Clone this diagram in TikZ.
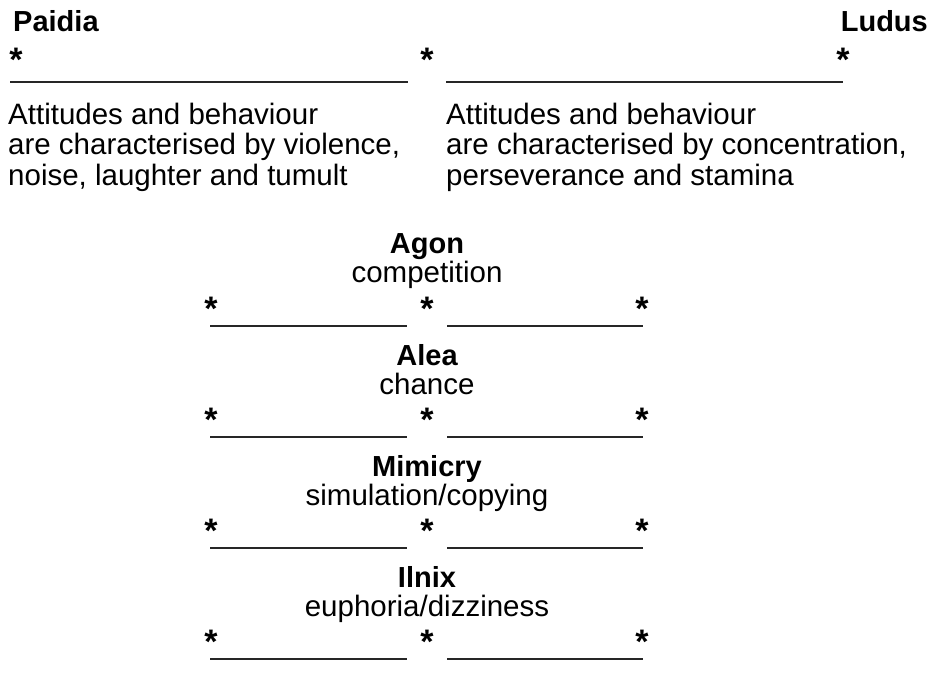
\documentclass[tikz,border=0pt]{standalone}
\usepackage{fontspec}
\setmainfont{Liberation Sans}
\usetikzlibrary{positioning}

\begin{document}
\begin{tikzpicture}[x=1pt,y=-1pt,
	headnode/.style={font=\bfseries\fontsize{29}{32}\selectfont, inner sep=0pt, anchor=base},
	txtnode/.style={font=\fontsize{29.5}{31}\selectfont, inner sep=0pt, anchor=base},
	astnode/.style={font=\bfseries\fontsize{34}{34}\selectfont, inner sep=0pt, anchor=base},
	rule/.style={line width=1.8pt, black!85}]
	\useasboundingbox (0,0) rectangle (932,687);
	% the two poles
	\node[headnode, anchor=base west] (paidia) at (13,32) {Paidia};
	\node[headnode, anchor=base east] (ludus) at (928,32) {Ludus};
	\node[astnode] (paidiaL) at (16,72) {*};
	\node[astnode] (poleM) at (427,72) {*};
	\node[astnode] (ludusR) at (843,72) {*};
	\draw[rule] ([xshift=-6pt,yshift=-10pt]paidiaL.base) -- ([xshift=-19pt,yshift=-10pt]poleM.base);
	\draw[rule] ([xshift=19pt,yshift=-10pt]poleM.base) -- ([yshift=-10pt]ludusR.base);
	\node[txtnode, anchor=base west, align=left] (paidiadesc) at (8,186) {Attitudes and behaviour\\are characterised by violence,\\noise, laughter and tumult};
	\node[txtnode, anchor=base west, align=left] (ludusdesc) at (446,186) {Attitudes and behaviour\\are characterised by concentration,\\perseverance and stamina};
	% Agon
	\node[headnode] (agon) at (427,254) {Agon};
	\node[txtnode] (competition) at ([yshift=-29pt]agon.base) {competition};
	\node[astnode] (agonL) at (211,320) {*};
	\node[astnode] (agonM) at (427,320) {*};
	\node[astnode] (agonR) at (642,320) {*};
	\draw[rule] ([xshift=-1pt,yshift=-6pt]agonL.base) -- ([xshift=-20pt,yshift=-6pt]agonM.base);
	\draw[rule] ([xshift=20pt,yshift=-6pt]agonM.base) -- ([xshift=1pt,yshift=-6pt]agonR.base);
	% Alea
	\node[headnode] (alea) at (427,365) {Alea};
	\node[txtnode] (chance) at ([yshift=-29pt]alea.base) {chance};
	\node[astnode] (aleaL) at (211,431) {*};
	\node[astnode] (aleaM) at (427,431) {*};
	\node[astnode] (aleaR) at (642,431) {*};
	\draw[rule] ([xshift=-1pt,yshift=-6pt]aleaL.base) -- ([xshift=-20pt,yshift=-6pt]aleaM.base);
	\draw[rule] ([xshift=20pt,yshift=-6pt]aleaM.base) -- ([xshift=1pt,yshift=-6pt]aleaR.base);
	% Mimicry
	\node[headnode] (mimicry) at (427,476) {Mimicry};
	\node[txtnode] (simulation) at ([yshift=-29pt]mimicry.base) {simulation/copying};
	\node[astnode] (mimicryL) at (211,542) {*};
	\node[astnode] (mimicryM) at (427,542) {*};
	\node[astnode] (mimicryR) at (642,542) {*};
	\draw[rule] ([xshift=-1pt,yshift=-6pt]mimicryL.base) -- ([xshift=-20pt,yshift=-6pt]mimicryM.base);
	\draw[rule] ([xshift=20pt,yshift=-6pt]mimicryM.base) -- ([xshift=1pt,yshift=-6pt]mimicryR.base);
	% Ilnix
	\node[headnode] (ilnix) at (427,587) {Ilnix};
	\node[txtnode] (euphoria) at ([yshift=-29pt]ilnix.base) {euphoria/dizziness};
	\node[astnode] (ilnixL) at (211,653) {*};
	\node[astnode] (ilnixM) at (427,653) {*};
	\node[astnode] (ilnixR) at (642,653) {*};
	\draw[rule] ([xshift=-1pt,yshift=-6pt]ilnixL.base) -- ([xshift=-20pt,yshift=-6pt]ilnixM.base);
	\draw[rule] ([xshift=20pt,yshift=-6pt]ilnixM.base) -- ([xshift=1pt,yshift=-6pt]ilnixR.base);
\end{tikzpicture}
\end{document}
